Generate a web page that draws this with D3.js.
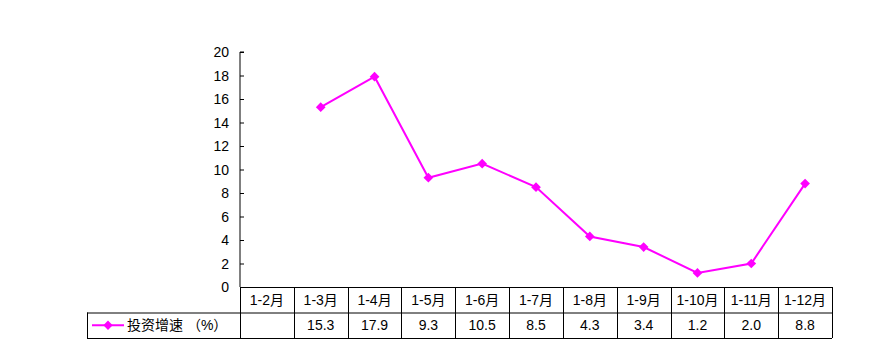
<!DOCTYPE html>
<html>
<head>
<meta charset="utf-8">
<script src="https://cdn.jsdelivr.net/npm/d3@7"></script>
<style>
  body { margin: 0; background: #fff; }
  svg text { font-family: "Liberation Sans", "Noto Sans CJK SC", sans-serif; font-size: 14px; fill: #000; }
</style>
</head>
<body>
<div id="chart"></div>
<script>
// categories and series for the investment growth line + data table
const categories = ['1-2月', '1-3月', '1-4月', '1-5月', '1-6月', '1-7月', '1-8月', '1-9月', '1-10月', '1-11月', '1-12月'];
const growth = [null, 15.3, 17.9, 9.3, 10.5, 8.5, 4.3, 3.4, 1.2, 2.0, 8.8];
const yTicks = [0, 2, 4, 6, 8, 10, 12, 14, 16, 18, 20];
const seriesName = '投资增速 （%）';

const W = 885, H = 355;
const plotLeft = 240, plotRight = 832, plotTop = 52, plotBottom = 287;
const rowH = 25.5;
const legendLeft = 87;
const COLOR = '#ff00ff';

const svg = d3.select('#chart').append('svg')
    .attr('width', W).attr('height', H);

const x = d3.scaleBand().domain(categories).range([plotLeft, plotRight]).padding(0);
const y = d3.scaleLinear().domain([0, 20]).range([plotBottom, plotTop]);

// y axis, ticks pointing inward
const yAxis = svg.append('g')
    .attr('transform', `translate(${plotLeft},0)`)
    .call(d3.axisRight(y).tickValues(yTicks).tickSize(4).tickFormat(d3.format('d')));
yAxis.select('.domain').attr('stroke', '#000').attr('d', `M4,${plotTop}H0V${plotBottom}`);
yAxis.selectAll('.tick line').attr('stroke', '#000');
yAxis.selectAll('.tick text')
    .attr('x', -11).attr('text-anchor', 'end').attr('dy', '0.35em');

// data table
const table = svg.append('g').attr('fill', 'none').attr('stroke', '#000').attr('stroke-width', 1);
const r0 = plotBottom, r1 = plotBottom + rowH, r2 = plotBottom + rowH * 2;
table.append('line').attr('x1', plotLeft).attr('x2', plotRight).attr('y1', r0 + 0.5).attr('y2', r0 + 0.5);
table.append('line').attr('x1', legendLeft).attr('x2', plotRight).attr('y1', r1 + 0.5).attr('y2', r1 + 0.5);
table.append('line').attr('x1', legendLeft).attr('x2', plotRight).attr('y1', r2 + 0.5).attr('y2', r2 + 0.5);
table.append('line').attr('x1', legendLeft + 0.5).attr('x2', legendLeft + 0.5).attr('y1', r1).attr('y2', r2);
const edges = categories.map(c => x(c)).concat([plotRight]);
edges.forEach(e => {
    table.append('line').attr('x1', Math.round(e) + 0.5).attr('x2', Math.round(e) + 0.5).attr('y1', r0).attr('y2', r2);
});

svg.append('g').selectAll('text').data(categories).join('text')
    .attr('x', d => x(d) + x.bandwidth() / 2)
    .attr('y', (r0 + r1) / 2)
    .attr('dy', '0.35em')
    .attr('text-anchor', 'middle')
    .text(d => d);

svg.append('g').selectAll('text').data(growth.map((v, i) => ({ c: categories[i], v })).filter(d => d.v != null)).join('text')
    .attr('x', d => x(d.c) + x.bandwidth() / 2)
    .attr('y', (r1 + r2) / 2)
    .attr('dy', '0.35em')
    .attr('text-anchor', 'middle')
    .text(d => d.v.toFixed(1));

// legend key in table row
const ly = (r1 + r2) / 2;
svg.append('line').attr('x1', 92).attr('x2', 124).attr('y1', ly).attr('y2', ly)
    .attr('stroke', COLOR).attr('stroke-width', 2);
svg.append('path').attr('d', d3.symbol(d3.symbolDiamond2, 55)()).attr('transform', `translate(108,${ly})`)
    .attr('fill', COLOR);
svg.append('text').attr('x', 127).attr('y', ly).attr('dy', '0.35em').text(seriesName);

// the series line
const pts = growth.map((v, i) => ({ c: categories[i], v })).filter(d => d.v != null);
const line = d3.line()
    .x(d => x(d.c) + x.bandwidth() / 2)
    .y(d => y(d.v));
svg.append('path').datum(pts).attr('d', line)
    .attr('fill', 'none').attr('stroke', COLOR).attr('stroke-width', 2);
svg.append('g').selectAll('path').data(pts).join('path')
    .attr('d', d3.symbol(d3.symbolDiamond2, 60)())
    .attr('transform', d => `translate(${x(d.c) + x.bandwidth() / 2},${y(d.v)})`)
    .attr('fill', COLOR);
</script>
</body>
</html>
